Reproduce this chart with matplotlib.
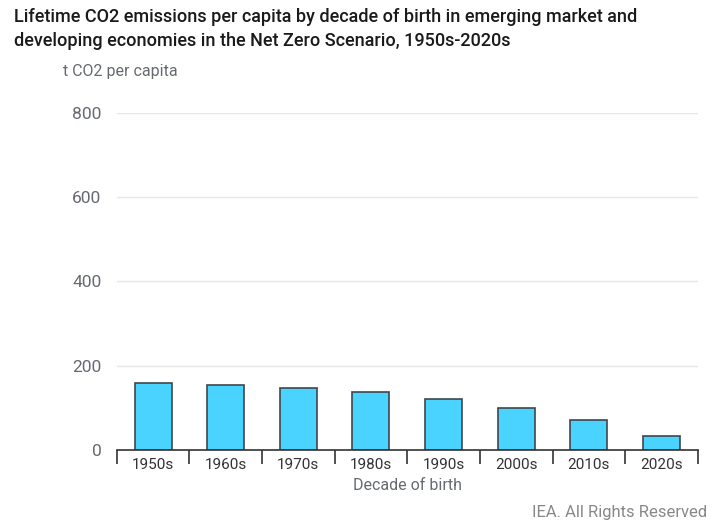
import numpy as np
import matplotlib.pyplot as plt
from matplotlib.ticker import FixedLocator

plt.rcParams["font.family"] = ["Roboto", "DejaVu Sans"]

decades = ["1950s", "1960s", "1970s", "1980s", "1990s", "2000s", "2010s", "2020s"]
emissions = [158, 153, 146, 138, 120, 99, 70, 34]
yticks = [0, 200, 400, 600, 800]

fig = plt.figure(figsize=(7.12, 5.28), dpi=100)
ax = fig.add_axes([0.164, 0.148, 0.816, 0.638])

x = np.arange(len(decades))
ax.bar(x, emissions, width=0.51, color="#4ad3ff", edgecolor="#3f474b", linewidth=1.2, zorder=3)

ax.set_ylim(0, 800)
ax.set_xlim(-0.5, len(decades) - 0.5)
ax.set_yticks(yticks)
ax.set_yticklabels([str(v) for v in yticks], fontsize=12.5, color="#666a70")
ax.yaxis.grid(True, color="#e6e6e6", linewidth=1, zorder=0)
ax.tick_params(axis="y", length=0, pad=11)

ax.set_xticks(x)
ax.set_xticklabels(decades, fontsize=11, color="#333333")
ax.tick_params(axis="x", which="major", length=0, pad=6)
ax.xaxis.set_minor_locator(FixedLocator(np.arange(-0.5, len(decades), 1.0)))
ax.tick_params(axis="x", which="minor", length=10, width=1.2, color="#333333")

for s in ["top", "right", "left"]:
    ax.spines[s].set_visible(False)
ax.spines["bottom"].set_color("#333333")
ax.spines["bottom"].set_linewidth(1.2)
ax.spines["bottom"].set_zorder(4)

ax.set_xlabel("Decade of birth", fontsize=11.5, color="#666a70", labelpad=4)

fig.text(0.02, 0.985, "Lifetime CO2 emissions per capita by decade of birth in emerging market and\n"
         "developing economies in the Net Zero Scenario, 1950s-2020s",
         fontsize=13, fontweight="medium", color="#1a1a1a", va="top", ha="left", linespacing=1.4)
fig.text(0.088, 0.865, "t CO2 per capita", fontsize=11.5, color="#666a70", va="center", ha="left")
fig.text(0.993, 0.03, "IEA. All Rights Reserved", fontsize=12, color="#888888", ha="right", va="center")

fig.savefig("out.png", dpi=100)
